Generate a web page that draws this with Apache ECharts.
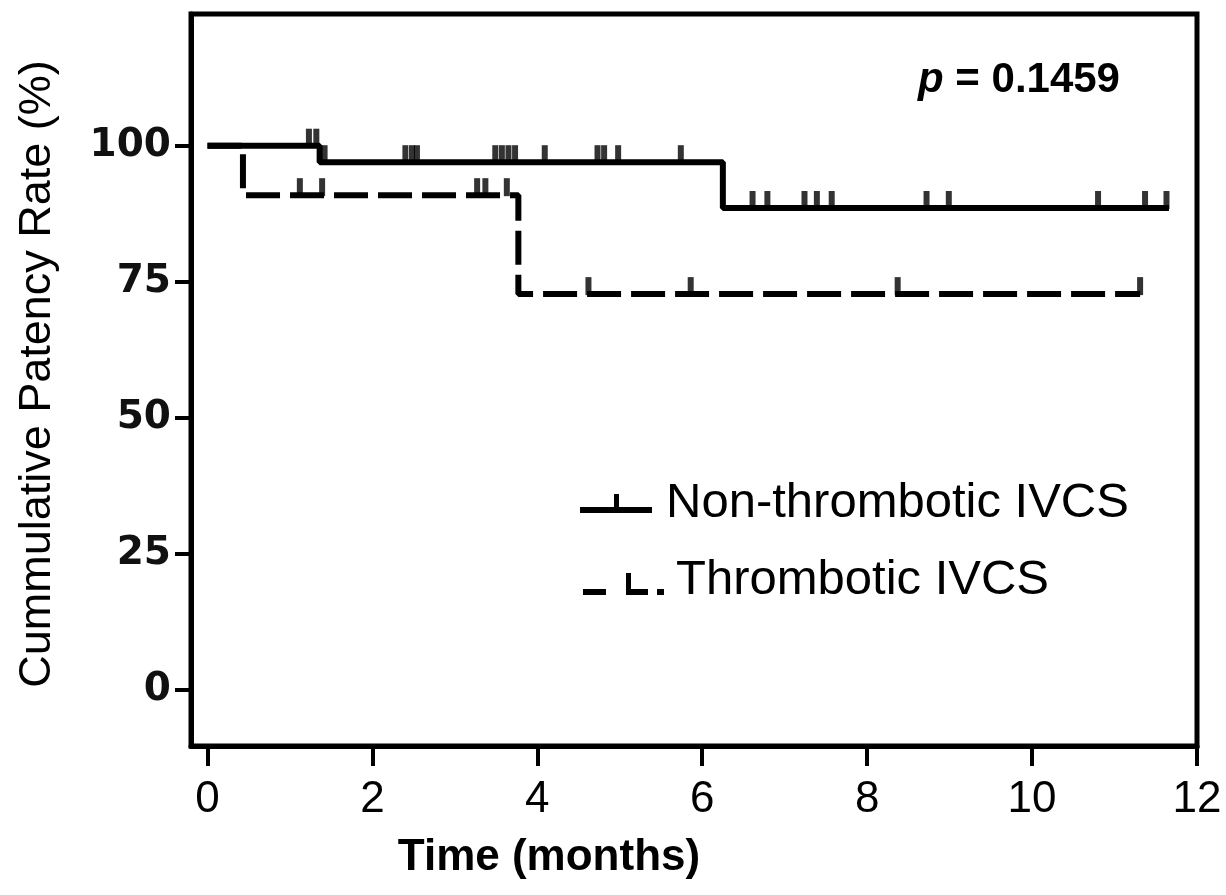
<!DOCTYPE html>
<html>
<head>
<meta charset="utf-8">
<script src="https://cdn.jsdelivr.net/npm/echarts@6/dist/echarts.min.js"></script>
<style>
html,body{margin:0;padding:0;background:#fff}
#chart{width:1226px;height:895px}
</style>
</head>
<body>
<div id="chart"></div>
<script>
// tick labels
var xTicks = [0, 2, 4, 6, 8, 10, 12];
var yTicks = [0, 25, 50, 75, 100];

// Non-thrombotic IVCS: step points and censored times
var nonTime = [0, 1.36, 6.25, 11.66];
var nonRate = [100, 96.97, 88.55, 88.55];
var nonCensor = [1.23, 1.32, 1.42, 2.40, 2.48, 2.54, 3.49, 3.57, 3.65, 3.73, 4.09,
    4.73, 4.81, 4.98, 5.74, 6.61, 6.79, 7.24, 7.39, 7.57, 8.72, 8.99, 10.80, 11.37, 11.63];

// Thrombotic IVCS
var thrTime = [0, 0.43, 3.77, 11.31];
var thrRate = [100, 90.91, 72.73, 72.73];
var thrCensor = [1.12, 1.39, 3.27, 3.37, 3.63, 4.62, 5.86, 8.37, 11.31];

function rateAt(times, rates, t) {
    var r = rates[0];
    for (var i = 0; i < times.length; i++) {
        if (times[i] <= t) r = rates[i];
    }
    return r;
}
function stepData(times, rates) {
    return times.map(function (t, i) { return [t, rates[i]]; });
}
function censorData(times, rates, cens) {
    return cens.map(function (t) { return [t, rateAt(times, rates, t)]; });
}

var myChart = echarts.init(document.getElementById('chart'));
var font = '"Liberation Sans", Arial, sans-serif';

var option = {
    animation: false,
    backgroundColor: '#fff',
    grid: {
        left: 191, right: 29, top: 14, bottom: 149,
        show: true, borderColor: '#000', borderWidth: 5, backgroundColor: 'transparent'
    },
    xAxis: {
        type: 'value', min: -0.2, max: 12,
        axisLine: { show: true, onZero: false, lineStyle: { color: '#000', width: 5 } },
        axisTick: { show: true, customValues: xTicks, length: 20, lineStyle: { color: '#000', width: 4 } },
        axisLabel: { customValues: xTicks, color: '#000', fontSize: 44, fontFamily: font, margin: 32 },
        splitLine: { show: false }
    },
    yAxis: {
        type: 'value', min: -10.3, max: 124.2,
        axisLine: { show: true, onZero: false, lineStyle: { color: '#000', width: 5 } },
        axisTick: { show: true, customValues: yTicks, length: 16, lineStyle: { color: '#000', width: 4 } },
        axisLabel: { customValues: yTicks, color: '#111', fontSize: 39, fontWeight: 'bold',
            fontFamily: '"DejaVu Sans", sans-serif', margin: 20 },
        splitLine: { show: false }
    },
    series: [
        {
            name: 'Thrombotic IVCS', type: 'line', step: 'end', symbol: 'none',
            data: stepData(thrTime, thrRate),
            lineStyle: { color: '#000', width: 6, type: [34, 10], cap: 'butt' },
            z: 2
        },
        {
            name: 'Thrombotic IVCS censored', type: 'scatter', symbol: 'rect',
            symbolSize: [6, 18], symbolOffset: [0, -8],
            itemStyle: { color: '#000' },
            data: censorData(thrTime, thrRate, thrCensor),
            z: 3
        },
        {
            name: 'Non-thrombotic IVCS', type: 'line', step: 'end', symbol: 'none',
            data: stepData(nonTime, nonRate),
            lineStyle: { color: '#000', width: 6, cap: 'butt' },
            z: 4
        },
        {
            name: 'Non-thrombotic IVCS censored', type: 'scatter', symbol: 'rect',
            symbolSize: [6, 18], symbolOffset: [0, -8],
            itemStyle: { color: '#000' },
            data: censorData(nonTime, nonRate, nonCensor),
            z: 5
        }
    ],
    graphic: [
        {
            type: 'text', x: 38, y: 374, rotation: Math.PI / 2,
            style: { text: 'Cummulative Patency Rate (%)', fill: '#000', fontSize: 45,
                fontFamily: font, align: 'center', verticalAlign: 'middle' }
        },
        {
            type: 'text', x: 549, y: 858,
            style: { text: 'Time (months)', fill: '#000', fontSize: 44, fontWeight: 'bold',
                fontFamily: font, align: 'center', verticalAlign: 'middle' }
        },
        {
            type: 'text', x: 918, y: 80,
            style: {
                text: '{i|p} = 0.1459', fill: '#000', fontSize: 42, fontWeight: 'bold',
                fontFamily: font, align: 'left', verticalAlign: 'middle',
                rich: { i: { fontStyle: 'italic', fontWeight: 'bold', fontSize: 42, fontFamily: font } }
            }
        },
        // legend
        { type: 'rect', shape: { x: 580, y: 507, width: 72, height: 6 }, style: { fill: '#000' } },
        { type: 'rect', shape: { x: 614, y: 494, width: 5, height: 15 }, style: { fill: '#000' } },
        {
            type: 'text', x: 666, y: 503,
            style: { text: 'Non-thrombotic IVCS', fill: '#000', fontSize: 49, fontFamily: font,
                align: 'left', verticalAlign: 'middle' }
        },
        { type: 'rect', shape: { x: 583, y: 589, width: 23, height: 6 }, style: { fill: '#000' } },
        { type: 'rect', shape: { x: 626, y: 573, width: 5, height: 22 }, style: { fill: '#000' } },
        { type: 'rect', shape: { x: 626, y: 589, width: 22, height: 6 }, style: { fill: '#000' } },
        { type: 'rect', shape: { x: 657, y: 589, width: 7, height: 6 }, style: { fill: '#000' } },
        {
            type: 'text', x: 676, y: 580,
            style: { text: 'Thrombotic IVCS', fill: '#000', fontSize: 49, fontFamily: font,
                align: 'left', verticalAlign: 'middle' }
        }
    ]
};
myChart.setOption(option);
</script>
</body>
</html>
